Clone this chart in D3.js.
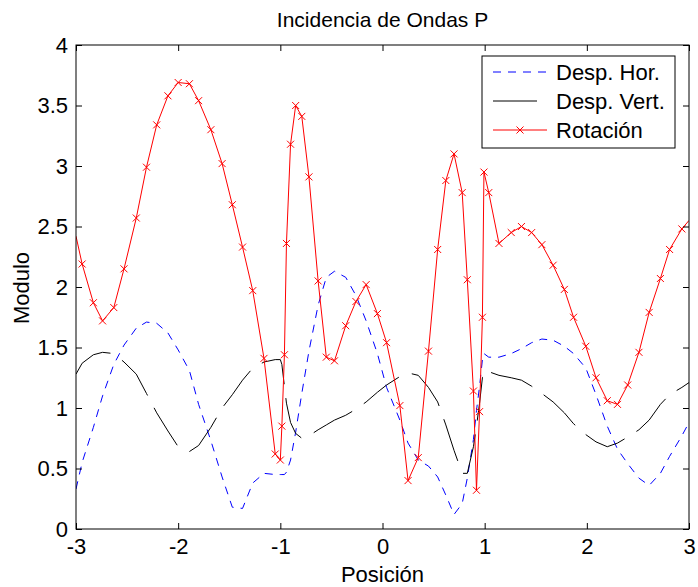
<!DOCTYPE html>
<html><head><meta charset="utf-8">
<script src="https://cdn.jsdelivr.net/npm/d3@7"></script>
<style>body{margin:0;background:#fff} text{font-family:"Liberation Sans",Arial,Helvetica,sans-serif;fill:#000}</style>
</head><body><svg id="c" width="698" height="587"></svg>
<script>
const xPos=[-3.00,-2.94,-2.83,-2.74,-2.63,-2.53,-2.41,-2.31,-2.21,-2.10,-2.00,-1.89,-1.80,-1.68,-1.57,-1.47,-1.37,-1.27,-1.16,-1.05,-1.00,-0.985,-0.96,-0.94,-0.90,-0.85,-0.79,-0.72,-0.63,-0.55,-0.47,-0.36,-0.26,-0.16,-0.05,0.04,0.17,0.25,0.35,0.45,0.54,0.62,0.70,0.78,0.83,0.89,0.92,0.95,0.978,0.993,1.04,1.14,1.26,1.36,1.46,1.56,1.67,1.78,1.87,1.99,2.09,2.20,2.30,2.40,2.51,2.61,2.72,2.81,2.93,3.00];
const horiz=[0.33,0.55,0.84,1.10,1.36,1.52,1.66,1.71,1.70,1.62,1.48,1.31,1.03,0.73,0.43,0.18,0.17,0.38,0.46,0.45,0.45,0.45,0.45,0.47,0.57,0.80,1.12,1.47,1.85,2.08,2.13,2.08,1.93,1.72,1.45,1.17,0.90,0.71,0.57,0.52,0.43,0.28,0.12,0.21,0.42,0.74,0.98,1.18,1.40,1.45,1.42,1.42,1.45,1.49,1.54,1.57,1.56,1.51,1.45,1.33,1.11,0.85,0.66,0.54,0.42,0.36,0.46,0.60,0.77,0.88];
const vert=[1.28,1.37,1.44,1.46,1.45,1.38,1.28,1.12,0.96,0.81,0.68,0.64,0.69,0.84,1.00,1.11,1.23,1.33,1.38,1.40,1.40,1.36,1.18,1.04,0.88,0.79,0.75,0.77,0.82,0.86,0.90,0.94,0.99,1.05,1.13,1.19,1.26,1.29,1.27,1.17,1.05,0.86,0.65,0.46,0.46,0.68,0.85,1.04,1.25,1.31,1.30,1.27,1.25,1.23,1.18,1.12,1.05,0.96,0.87,0.78,0.72,0.68,0.71,0.76,0.82,0.90,1.03,1.11,1.17,1.21];
const rot=[2.42,2.19,1.87,1.72,1.83,2.15,2.57,2.99,3.34,3.58,3.69,3.68,3.54,3.30,3.02,2.68,2.33,1.97,1.41,0.62,0.57,0.85,1.44,2.36,3.18,3.50,3.41,2.91,2.05,1.42,1.39,1.68,1.88,2.02,1.78,1.54,1.02,0.40,0.59,1.47,2.31,2.88,3.10,2.78,2.06,1.14,0.32,0.97,1.75,2.95,2.78,2.36,2.45,2.50,2.45,2.35,2.18,1.98,1.75,1.51,1.25,1.06,1.03,1.19,1.46,1.79,2.07,2.31,2.48,2.55];
const xTicks=[-3,-2,-1,0,1,2,3];
const xTickLabels=["-3","-2","-1","0","1","2","3"];
const yTicks=[0,0.5,1,1.5,2,2.5,3,3.5,4];
const yTickLabels=["0","0.5","1","1.5","2","2.5","3","3.5","4"];
const seriesNames=["Desp. Hor.","Desp. Vert.","Rotación"];
const titleText="Incidencia de Ondas P";
const xLabel="Posición";
const yLabel="Modulo";

const svg=d3.select("#c");
const L=76,R=689,T=45,B=529;
const x=d3.scaleLinear().domain([-3,3]).range([L,R]);
const y=d3.scaleLinear().domain([0,4]).range([B,T]);
const FS=22;

svg.append("defs").append("clipPath").attr("id","clip").append("rect")
  .attr("x",L).attr("y",T).attr("width",R-L).attr("height",B-T);

const styles=[
  {color:"#0000ff",dash:"8,7",data:horiz,marker:false},
  {color:"#000000",dash:"44,14",data:vert,marker:false},
  {color:"#ff0000",dash:null,data:rot,marker:true}
];
const line=d3.line().x(d=>x(d[0])).y(d=>y(d[1]));
const g=svg.append("g").attr("clip-path","url(#clip)");
styles.forEach(s=>{
  const pts=xPos.map((xv,i)=>[xv,s.data[i]]);
  g.append("path").attr("d",line(pts)).attr("fill","none")
    .attr("stroke",s.color).attr("stroke-width",1)
    .attr("stroke-dasharray",s.dash);
  if(s.marker){
    const m=3.5;
    g.selectAll(null).data(pts.filter(p=>p[0]>-3&&p[0]<3)).enter().append("path")
      .attr("d",p=>{const cx=x(p[0]),cy=y(p[1]);return `M${cx-m},${cy-m}L${cx+m},${cy+m}M${cx-m},${cy+m}L${cx+m},${cy-m}`;})
      .attr("stroke",s.color).attr("stroke-width",1).attr("fill","none");
  }
});

// axes
const ax=(axis,tx,ty,labels)=>{
  const a=svg.append("g").attr("transform",`translate(${tx},${ty})`).call(axis);
  a.select(".domain").remove();
  a.selectAll("line").attr("stroke","#000");
  a.selectAll("text").style("font-size",FS+"px").attr("fill","#000");
  if(!labels) a.selectAll("text").remove();
  return a;
};
ax(d3.axisBottom(x).tickValues(xTicks).tickSizeInner(-6).tickSizeOuter(0).tickPadding(9).tickFormat((d,i)=>xTickLabels[i]),0,B,true);
ax(d3.axisTop(x).tickValues(xTicks).tickSizeInner(-6).tickSizeOuter(0),0,T,false);
ax(d3.axisLeft(y).tickValues(yTicks).tickSizeInner(-6).tickSizeOuter(0).tickPadding(8).tickFormat((d,i)=>yTickLabels[i]),L,0,true);
ax(d3.axisRight(y).tickValues(yTicks).tickSizeInner(-6).tickSizeOuter(0),R,0,false);

svg.append("rect").attr("x",L).attr("y",T).attr("width",R-L).attr("height",B-T)
  .attr("fill","none").attr("stroke","#000").attr("stroke-width",1);

svg.append("text").attr("x",(L+R)/2).attr("y",27).attr("text-anchor","middle").style("font-size","21px").text(titleText);
svg.append("text").attr("x",(L+R)/2).attr("y",582).attr("text-anchor","middle").style("font-size","22px").text(xLabel);
svg.append("text").attr("transform","translate(29,288) rotate(-90)").attr("text-anchor","middle").style("font-size","22px").text(yLabel);

// legend
const lg=svg.append("g");
lg.append("rect").attr("x",482).attr("y",56).attr("width",193).attr("height",92).attr("fill","#fff").attr("stroke","#000").attr("stroke-width",1);
seriesNames.forEach((n,i)=>{
  const s=styles[i], yy=72+i*29;
  lg.append("line").attr("x1",493).attr("x2",547).attr("y1",yy).attr("y2",yy)
    .attr("stroke",s.color).attr("stroke-width",1).attr("stroke-dasharray",s.dash);
  if(s.marker){const m=3.5,cx=520;
    lg.append("path").attr("d",`M${cx-m},${yy-m}L${cx+m},${yy+m}M${cx-m},${yy+m}L${cx+m},${yy-m}`).attr("stroke",s.color);}
  lg.append("text").attr("x",556).attr("y",yy).attr("dy","0.35em").style("font-size","22px").text(n);
});
</script></body></html>
